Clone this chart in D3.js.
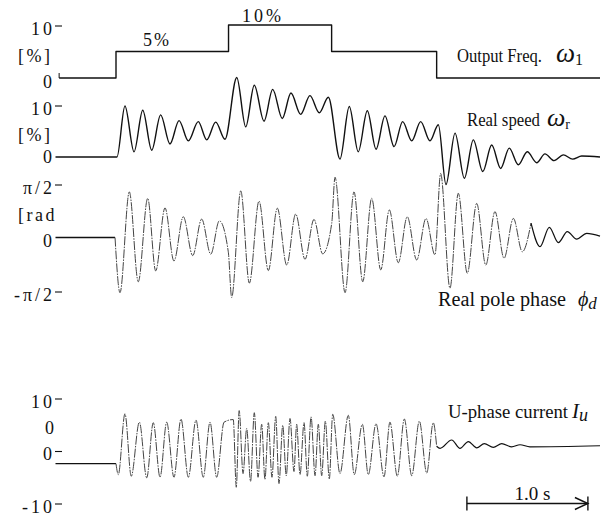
<!DOCTYPE html>
<html><head><meta charset="utf-8">
<script src="https://cdn.jsdelivr.net/npm/d3@7"></script>
<style>html,body{margin:0;padding:0;background:#fff;}</style>
</head><body><div id="chart"></div>
<script>
// ---- data (time in seconds, t=0 at first speed step) ----
const freqTime  = [-0.47, 0, 0.93, 1.782, 2.65, 4.0];
const freqValue = [0, 5, 10, 5, 0, 0];

const speedTime  = [-0.5,0.008,0.074,0.149,0.221,0.295,0.369,0.446,0.521,0.598,0.680,0.750,0.824,0.901,0.998,1.072,1.143,1.223,1.295,1.374,1.446,1.526,1.603,1.680,1.755,1.851,1.928,2.002,2.077,2.149,2.223,2.298,2.369,2.444,2.518,2.595,2.664,2.727,2.802,2.879,2.953,3.031,3.105,3.179,3.250,3.325,3.399,3.477,3.545,3.620,3.697,3.774,3.849,4.0];
const speedValue = [0,0,9.8,1.0,9.0,1.3,8.1,2.5,7.0,3.1,6.8,3.3,6.7,3.4,15.3,5.8,13.8,6.9,13.0,7.4,12.3,8.2,11.8,8.5,11.5,-0.4,9.7,1.0,8.9,1.5,7.9,2.0,6.8,3.1,6.8,3.1,6.2,-5.3,4.6,-4.1,3.3,-2.8,2.3,-2.2,1.7,-1.5,1.0,-1.1,0.6,-0.7,0.4,-0.4,0.2,0];

const phaseTime  = [-0.5,-0.008,0.033,0.110,0.184,0.262,0.328,0.405,0.479,0.556,0.634,0.708,0.783,0.854,0.928,0.956,1.031,1.102,1.182,1.259,1.333,1.411,1.485,1.562,1.636,1.708,1.783,1.810,1.893,1.967,2.039,2.113,2.188,2.259,2.333,2.407,2.485,2.562,2.636,2.683,2.760,2.829,2.903,2.981,3.056,3.132,3.207,3.284,3.358,3.430,3.504,3.581,3.656,3.730,3.807,3.890,4.0];
const phaseValue = [0,0,-1.62,1.34,-1.30,1.15,-0.98,0.87,-0.69,0.61,-0.53,0.54,-0.49,0.49,-0.42,-1.76,1.37,-1.34,1.07,-0.97,0.86,-0.81,0.69,-0.64,0.53,-0.48,0.42,1.77,-1.62,1.34,-1.30,1.15,-0.95,0.81,-0.74,0.61,-0.66,0.56,-0.51,1.88,-1.49,1.30,-1.05,1.00,-0.81,0.76,-0.61,0.56,-0.42,0.42,-0.27,0.30,-0.15,0.17,-0.05,0.12,0.04];

const currentTime  = [-0.5,0,0.019,0.074,0.126,0.193,0.254,0.308,0.364,0.419,0.479,0.537,0.598,0.661,0.721,0.777,0.832,0.893,0.969,0.994,1.018,1.050,1.080,1.112,1.143,1.174,1.204,1.231,1.259,1.289,1.320,1.347,1.378,1.407,1.438,1.471,1.493,1.521,1.554,1.581,1.612,1.645,1.672,1.700,1.730,1.763,1.791,1.851,1.920,1.969,2.036,2.085,2.149,2.215,2.264,2.325,2.383,2.444,2.507,2.568,2.622,2.650,2.678,2.774,2.843,2.912,2.981,3.044,3.118,3.188,3.270,3.339,3.421,4.0];
const currentValue = [-2.5,-2.5,-4.6,7.0,-4.9,5.4,-5.2,5.3,-5.1,5.4,-5.1,6.0,-5.1,5.8,-5.1,5.4,-5.1,5.4,5.9,-7.0,7.6,-4.4,4.2,-5.9,7.2,-5.1,5.0,-5.5,5.3,-5.1,6.5,-6.3,4.8,-4.8,6.1,-4.0,5.0,-4.6,5.3,-4.9,6.4,-4.8,5.0,-4.8,5.6,-5.4,6.9,-4.4,6.7,-4.6,5.0,-4.6,5.1,-5.0,5.4,-4.9,6.0,-4.8,5.6,-4.3,5.3,0.8,0.4,2.0,0.4,1.7,0.5,1.3,0.6,1.3,0.7,1.1,0.7,0.9];

const freqTicks = [10, 0],  freqTickLabels = ["10", "0"];
const speedTicks = [10, 0], speedTickLabels = ["10", "0"];
const phaseTicks = [Math.PI/2, 0, -Math.PI/2], phaseTickLabels = ["π/2", "0", "-π/2"];
const currentTicks = [10, 0, -10], currentTickLabels = ["10", "0", "-10"];
const scaleBar = [2.9, 3.9], scaleBarLabel = "1.0 s";

// ---- drawing ----
const W = 601, H = 517;
const svg = d3.select("#chart").append("svg").attr("width", W).attr("height", H)
  .style("background", "#fff");

const x = d3.scaleLinear().domain([-0.5, 4.0]).range([55.5, 600]);
const yFreq = d3.scaleLinear().domain([0, 10]).range([78, 25]);
const ySpeed = d3.scaleLinear().domain([0, 10]).range([157, 105]);
const yPhase = d3.scaleLinear().domain([-Math.PI/2, Math.PI/2]).range([291, 184]);
const yCur = d3.scaleLinear().domain([-10, 10]).range([503, 398]);

const serif = "Liberation Serif, DejaVu Serif, serif";

function trace(times, values, yS, t0, t1, style, curve) {
  const pts = times.map((t, i) => [t, values[i]]).filter(d => d[0] >= t0 && d[0] <= t1);
  const line = d3.line().x(d => x(d[0])).y(d => yS(d[1])).curve(curve || d3.curveMonotoneX);
  svg.append("path").datum(pts).attr("d", line).attr("fill", "none")
    .attr("stroke", style.color).attr("stroke-width", style.width)
    .attr("stroke-dasharray", style.dash || null).attr("stroke-linejoin", "round");
}

const solid = {color: "#111", width: 1.4};
const dashed = {color: "#444", width: 1.0, dash: "9,1.2,1.5,1.2"};

// Output frequency (step)
trace(freqTime, freqValue, yFreq, -1, 5, solid, d3.curveStepAfter);
svg.append("line").attr("x1", x(freqTime[0])).attr("x2", x(freqTime[0]))
  .attr("y1", yFreq(0) - 5).attr("y2", yFreq(0)).attr("stroke", "#111").attr("stroke-width", 1);

// Real speed
trace(speedTime, speedValue, ySpeed, -1, 5, solid);

// Real pole phase
trace(phaseTime, phaseValue, yPhase, -1, -0.008, solid);
trace(phaseTime, phaseValue, yPhase, -0.008, 3.430, dashed);
trace(phaseTime, phaseValue, yPhase, 3.430, 5, {color: "#111", width: 1.2});

// U-phase current
trace(currentTime, currentValue, yCur, -1, 0, solid);
trace(currentTime, currentValue, yCur, 0, 2.650, dashed);
trace(currentTime, currentValue, yCur, 2.650, 5, {color: "#111", width: 1.2});

// tick labels + dashes
function ticks(vals, labels, yS, dashFor, off) {
  vals.forEach((v, i) => {
    const y = yS(v);
    svg.append("text").attr("x", 55).attr("y", y + (v === 0 ? off : 4))
      .attr("text-anchor", "end").attr("dominant-baseline", "central")
      .attr("font-family", serif).attr("font-size", 18).attr("letter-spacing", 3)
      .attr("fill", "#111").text(labels[i]);
    if (dashFor(v)) {
      svg.append("line").attr("x1", 55).attr("x2", 62).attr("y1", y + 1).attr("y2", y + 1)
        .attr("stroke", "#111").attr("stroke-width", 1.1);
    }
  });
}
ticks(freqTicks, freqTickLabels, yFreq, v => v !== 0, 4);
ticks(speedTicks, speedTickLabels, ySpeed, v => v !== 0, 0);
ticks(phaseTicks, phaseTickLabels, yPhase, v => v !== 0, 3);
ticks(currentTicks, currentTickLabels, yCur, v => true, 3);

// unit labels
function unit(txt, y, xStart) {
  svg.append("text").attr("x", xStart).attr("y", y + 4).attr("dominant-baseline", "central")
    .attr("font-family", serif).attr("font-size", 18).attr("letter-spacing", 2.5)
    .attr("fill", "#111").text(txt);
}
unit("[%]", yFreq(5), 18);
unit("[%]", ySpeed(5), 18);
unit("[rad", yPhase(Math.PI/4), 18);
unit("0", yCur(5), 45);

// level annotations on the output frequency trace
svg.append("text").attr("x", 143).attr("y", 46).attr("font-family", serif).attr("font-size", 18)
  .attr("letter-spacing", 2).attr("fill", "#111").text("5%");
svg.append("text").attr("x", 242).attr("y", 22).attr("font-family", serif).attr("font-size", 18)
  .attr("letter-spacing", 3).attr("fill", "#111").text("10%");

// trace names
function name(x0, y0, size, len, main, symX, sym, symSize, sub, subSize, subItalic) {
  svg.append("text").attr("x", x0).attr("y", y0).attr("font-family", serif).attr("fill", "#111")
    .attr("font-size", size).attr("textLength", len).attr("lengthAdjust", "spacingAndGlyphs").text(main);
  const t = svg.append("text").attr("x", symX).attr("y", y0).attr("font-family", serif).attr("fill", "#111");
  t.append("tspan").attr("font-size", symSize).attr("font-style", "italic").text(sym);
  t.append("tspan").attr("font-size", subSize).attr("font-style", subItalic ? "italic" : "normal")
    .attr("dy", 3).text(sub);
}
name(457, 62, 19, 85, "Output Freq.", 556, "ω", 27, "1", 16, false);
name(467, 126, 18.5, 73, "Real speed", 547, "ω", 26, "r", 14, false);
name(438, 306, 20, 128, "Real pole phase", 578, "ϕ", 20, "d", 17, true);
name(448, 418, 19.5, 120, "U-phase current", 572, "I", 21, "u", 18, true);

// 1.0 s scale bar
const sb = svg.append("g").attr("stroke", "#111").attr("stroke-width", 1.4).attr("fill", "none");
const yb = 503.5, xa = x(scaleBar[0]), xb = x(scaleBar[1]);
sb.append("line").attr("x1", xa).attr("x2", xb).attr("y1", yb).attr("y2", yb);
sb.append("line").attr("x1", xa).attr("x2", xa).attr("y1", yb - 7).attr("y2", yb + 7);
sb.append("line").attr("x1", xb).attr("x2", xb).attr("y1", yb - 7).attr("y2", yb + 7);
sb.append("polyline").attr("points", `${xb-13},${yb-6} ${xb},${yb} ${xb-13},${yb+6}`);
svg.append("text").attr("x", (xa + xb) / 2 + 5).attr("y", 500).attr("text-anchor", "middle")
  .attr("font-family", serif).attr("font-size", 19).attr("fill", "#111").text(scaleBarLabel);
</script></body></html>
